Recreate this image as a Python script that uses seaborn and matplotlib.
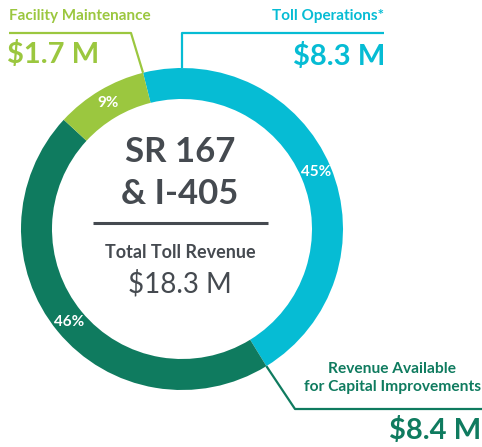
import numpy as np
import matplotlib.pyplot as plt
import seaborn as sns

# Data
categories = ["Toll Operations*", "Revenue Available\nfor Capital Improvements", "Facility Maintenance"]
amounts = [8.3, 8.4, 1.7]
amount_labels = ["$8.3 M", "$8.4 M", "$1.7 M"]
colors = ["#06BCD4", "#0F7B5F", "#9BC73F"]
title_lines = ["SR 167", "& I-405"]
total_label = "Total Toll Revenue"
total_value = "$18.3 M"

sns.set_theme(style="white")
plt.rcParams['font.family'] = ['Lato', 'DejaVu Sans']

W, H = 482, 447
fig = plt.figure(figsize=(W / 100, H / 100), dpi=100)
ax = fig.add_axes([0, 0, 1, 1])


def Y(y_img):
    # image pixel row -> axes y (y axis points up)
    return H - y_img


cx, cy, R, ring = 182, Y(229), 161, 31
start = 104

wedges, texts, autotexts = ax.pie(
    amounts, colors=colors, startangle=start, counterclock=False,
    radius=R, center=(cx, cy), wedgeprops=dict(width=ring, linewidth=0),
    autopct='%.0f%%', pctdistance=146 / R,
    textprops=dict(color='white', fontweight='bold', fontsize=11))

ax.set_xlim(0, W)
ax.set_ylim(0, H)
ax.set_aspect('auto')
ax.axis('off')

fracs = np.array(amounts) / sum(amounts)


def rim(angle_deg):
    a = np.deg2rad(angle_deg)
    return cx + R * np.cos(a), cy + R * np.sin(a)


dark = "#454A50"
lw = 1.6

# Toll Operations (top right)
ax.plot([384, cx, cx], [Y(33), Y(33), cy + R], color=colors[0], lw=lw, solid_capstyle='butt')
ax.text(384, Y(16), categories[0], color=colors[0], fontsize=11, fontweight='bold', ha='right', va='center')
ax.text(385, Y(56), amount_labels[0], color=colors[0], fontsize=21, fontweight='bold', ha='right', va='center')

# Facility Maintenance (top left)
px, py = rim(start)
ax.plot([9, 131, px], [Y(33), Y(33), py], color=colors[2], lw=lw, solid_capstyle='butt')
ax.text(9, Y(16), categories[2], color=colors[2], fontsize=11, fontweight='bold', ha='left', va='center')
ax.text(7, Y(55), amount_labels[2], color=colors[2], fontsize=21, fontweight='bold', ha='left', va='center')

# Revenue Available (bottom right)
px, py = rim(start - 360 * fracs[0])
ax.plot([px, 295, W], [py, Y(409), Y(409)], color=colors[1], lw=lw, solid_capstyle='butt')
ax.text(392, Y(378), categories[1], color=colors[1], fontsize=11.2, fontweight='bold',
        ha='center', va='center', linespacing=1.3)
ax.text(481, Y(431), amount_labels[1], color=colors[1], fontsize=21, fontweight='bold', ha='right', va='center')

# Center text
ax.text(180, Y(152), title_lines[0], color=dark, fontsize=25, fontweight='bold', ha='center', va='center')
ax.text(180, Y(194), title_lines[1], color=dark, fontsize=25, fontweight='bold', ha='center', va='center')
ax.plot([93, 268], [Y(223), Y(223)], color=dark, lw=2.2, solid_capstyle='butt')
ax.text(180, Y(253), total_label, color=dark, fontsize=13, fontweight='bold', ha='center', va='center')
ax.text(180, Y(284), total_value, color=dark, fontsize=20, ha='center', va='center')

fig.savefig("out.png", dpi=100)
